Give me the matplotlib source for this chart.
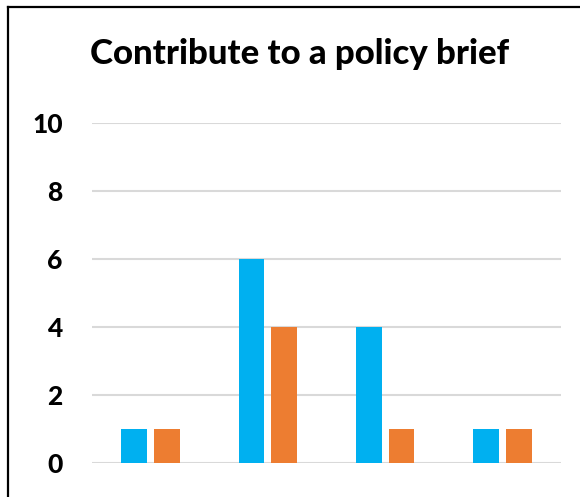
import matplotlib
matplotlib.use("Agg")
import matplotlib.pyplot as plt
from matplotlib.lines import Line2D
import numpy as np

title = "Contribute to a policy brief"
categories = ["A", "B", "C", "D"]
series_blue = [1, 6, 4, 1]
series_orange = [1, 4, 1, 1]
yticks = [0, 2, 4, 6, 8, 10]

blue = "#00B0F0"
orange = "#ED7D31"

fig = plt.figure(figsize=(5.8, 4.97), dpi=100)
ax = fig.add_axes([92 / 580, 1 - 463 / 497, (561 - 92) / 580, (463 - 123) / 497])

x = np.arange(len(categories))
w = 0.22
off = 0.14
ax.bar(x - off, series_blue, width=w, color=blue, zorder=3)
ax.bar(x + off, series_orange, width=w, color=orange, zorder=3)

ax.set_xlim(-0.5, len(categories) - 0.5)
ax.set_ylim(0, 10)
ax.set_yticks(yticks)
ax.set_yticklabels([str(t) for t in yticks], fontsize=19, fontweight=900,
                   family=["Lato", "DejaVu Sans"])
ax.tick_params(axis="y", length=0, pad=21)
ax.set_xticks([])
ax.grid(axis="y", color="#D9D9D9", linewidth=1.5, zorder=0)
for s in ax.spines.values():
    s.set_visible(False)

fig.text(0.5 * (87 + 512) / 580, 1 - 54 / 497, title, ha="center", va="center",
         fontsize=25, fontweight=900, family=["Lato", "DejaVu Sans"])

# frame around the chart (top and left edges)
fig.add_artist(Line2D([8 / 580, 1.0], [1 - 7 / 497, 1 - 7 / 497], color="black",
                      linewidth=1.6, transform=fig.transFigure))
fig.add_artist(Line2D([8 / 580, 8 / 580], [0.0, 1 - 7 / 497], color="black",
                      linewidth=1.6, transform=fig.transFigure))

fig.savefig("out.png", dpi=100, facecolor="white")
